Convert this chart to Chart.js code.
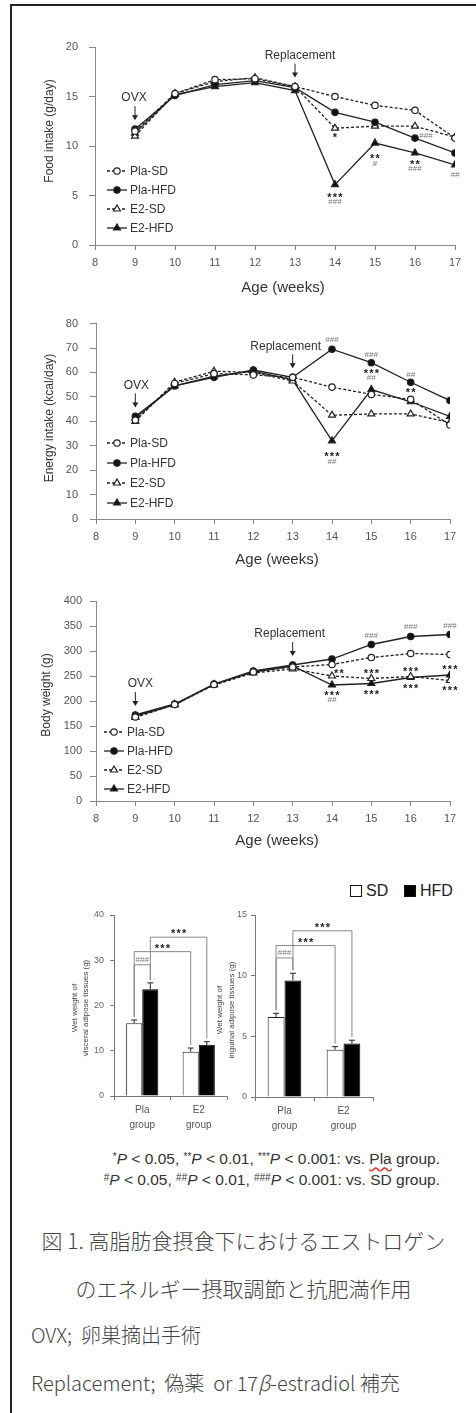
<!DOCTYPE html>
<html>
<head>
<meta charset="utf-8">
<script src="https://cdn.jsdelivr.net/npm/chart.js@4.4.0/dist/chart.umd.min.js"></script>
<style>
  body { margin: 0; background: #fff; }
  #page { position: relative; width: 476px; height: 1413px; overflow: hidden; font-family: "Liberation Sans", Arial, sans-serif; }
  #frame { position: absolute; left: 10px; top: 4px; width: 480px; height: 1420px; border-left: 2px solid #222; border-top: 2px solid #222; }
  canvas { position: absolute; }
  .key { position: absolute; top: 880px; font: 16px "Liberation Sans", Arial, sans-serif; color: #222; line-height: 22px; }
  .box { display: inline-block; width: 10px; height: 10px; border: 1.5px solid #111; vertical-align: -1px; margin-right: 4px; }
  #note { position: absolute; right: 36px; top: 1147px; font: 15.5px "Liberation Sans", Arial, sans-serif; color: #333; text-align: right; line-height: 19px; white-space: nowrap; }
  #note sup { font-size: 10px; vertical-align: 4px; }
  .wavy { text-decoration: underline wavy #d33; text-underline-offset: 2px; }
  .cap { position: absolute; font-family: "Noto Sans CJK JP", sans-serif; font-weight: 300; color: #444; white-space: nowrap; }
</style>
</head>
<body>
<div id="page">
  <div id="frame"></div>
  <canvas id="food" width="476" height="285" style="left:0;top:20px"></canvas>
  <canvas id="energy" width="476" height="265" style="left:0;top:305px"></canvas>
  <canvas id="body" width="476" height="280" style="left:0;top:575px"></canvas>

  <div class="key" style="left:350px"><span class="box" style="background:#fff"></span>SD</div>
  <div class="key" style="left:404px"><span class="box" style="background:#000"></span>HFD</div>
  <canvas id="visceral" width="202" height="240" style="left:30px;top:900px"></canvas>
  <canvas id="inguinal" width="170" height="240" style="left:212px;top:900px"></canvas>

  <div id="note">
    <sup>*</sup><i>P</i> &lt; 0.05, <sup>**</sup><i>P</i> &lt; 0.01, <sup>***</sup><i>P</i> &lt; 0.001: vs. <span class="wavy">Pla</span> group.<br>
    <sup>#</sup><i>P</i> &lt; 0.05, <sup>##</sup><i>P</i> &lt; 0.01, <sup>###</sup><i>P</i> &lt; 0.001: vs. SD group.
  </div>

  <div class="cap" style="left:11px;width:465px;text-align:center;top:1225px;font-size:21px;line-height:30px">図 1. 高脂肪食摂食下におけるエストロゲン</div>
  <div class="cap" style="left:11px;width:465px;text-align:center;top:1273px;font-size:21px;line-height:30px">のエネルギー摂取調節と抗肥満作用</div>
  <div class="cap" style="left:31px;top:1320px;font-size:20px;line-height:30px">OVX;&nbsp; 卵巣摘出手術</div>
  <div class="cap" style="left:31px;top:1368px;font-size:20px;line-height:30px">Replacement;&nbsp; 偽薬&nbsp; or 17<i>β</i>-estradiol 補充</div>
</div>

<script>
/* ---------- data ---------- */
const weeks = [9, 10, 11, 12, 13, 14, 15, 16, 17];
const seriesNames = ['Pla-SD', 'Pla-HFD', 'E2-SD', 'E2-HFD'];

const foodPlaSD  = [11.5, 15.3, 16.7, 16.8, 16.0, 15.0, 14.1, 13.6, 10.8];
const foodPlaHFD = [11.7, 15.1, 16.2, 16.6, 15.9, 13.4, 12.4, 10.8, 9.3];
const foodE2SD   = [11.0, 15.3, 16.5, 16.9, 16.0, 11.8, 12.0, 12.0, 10.9];
const foodE2HFD  = [11.3, 15.2, 16.0, 16.4, 15.6, 6.1, 10.3, 9.3, 8.1];

const energyPlaSD  = [40.5, 55.5, 59.5, 59.0, 58.0, 54.0, 51.0, 49.0, 38.5];
const energyPlaHFD = [42.0, 54.5, 58.0, 61.0, 58.0, 69.5, 64.0, 56.0, 48.5];
const energyE2SD   = [40.0, 56.0, 60.5, 60.0, 56.5, 42.5, 43.0, 43.0, 39.5];
const energyE2HFD  = [41.5, 54.5, 58.5, 60.5, 57.0, 32.0, 53.0, 48.0, 42.0];

const bwPlaSD  = [168, 193, 233, 258, 268, 273, 287, 295, 293];
const bwPlaHFD = [172, 194, 234, 260, 272, 284, 313, 329, 333];
const bwE2SD   = [167, 193, 232, 256, 264, 250, 245, 249, 241];
const bwE2HFD  = [170, 192, 233, 258, 270, 232, 235, 247, 252];

const barGroups = [['Pla', 'group'], ['E2', 'group']];
const visceralSD     = [16.1, 9.8];
const visceralSDErr  = [0.7, 0.8];
const visceralHFD    = [23.6, 11.3];
const visceralHFDErr = [1.4, 0.7];
const inguinalSD     = [6.6, 3.9];
const inguinalSDErr  = [0.3, 0.25];
const inguinalHFD    = [9.6, 4.4];
const inguinalHFDErr = [0.6, 0.28];

/* ---------- styles ---------- */
const FONT = '"Liberation Sans", Arial, sans-serif';
const INK = '#222';
const dashed = [true, false, true, false];
const markers = ['circle', 'circle', 'triangle', 'triangle'];
const markerFill = ['#fff', '#111', '#fff', '#111'];

function drawMarker(ctx, style, x, y, r, fill) {
  ctx.beginPath();
  if (style === 'triangle') {
    let a = 0;
    ctx.moveTo(x + Math.sin(a) * r, y - Math.cos(a) * r);
    a += Math.PI * 2 / 3;
    ctx.lineTo(x + Math.sin(a) * r, y - Math.cos(a) * r);
    a += Math.PI * 2 / 3;
    ctx.lineTo(x + Math.sin(a) * r, y - Math.cos(a) * r);
    ctx.closePath();
  } else {
    ctx.arc(x, y, r, 0, Math.PI * 2);
  }
  ctx.fillStyle = fill;
  ctx.fill();
  ctx.stroke();
}

function drawSig(ctx, x, y, text) {
  const star = text[0] === '*';
  const size = star ? 11 : 8;
  const step = star ? 5.5 : 4.5;
  ctx.font = (star ? 'bold ' : '') + size + 'px ' + FONT;
  ctx.fillStyle = star ? '#222' : '#777';
  ctx.textAlign = 'center';
  ctx.textBaseline = 'alphabetic';
  const base = y + (star ? 0.57 : 0.36) * size;
  for (let k = 0; k < text.length; k++) {
    ctx.fillText(text[k], x + (k - (text.length - 1) / 2) * step, base);
  }
}

function drawLineOverlay(chart, cfg) {
  const ctx = chart.ctx;
  const xs = chart.scales.x;
  const top = cfg.top;
  ctx.save();

  // axis titles
  ctx.fillStyle = '#333';
  ctx.textAlign = 'center';
  ctx.textBaseline = 'middle';
  ctx.font = '15px ' + FONT;
  ctx.fillText('Age (weeks)', cfg.xTitle[0], cfg.xTitle[1] - top);
  ctx.save();
  ctx.translate(cfg.yTitle[0], cfg.yTitle[1] - top);
  ctx.rotate(-Math.PI / 2);
  ctx.font = '12px ' + FONT;
  ctx.fillText(cfg.yLabel, 0, 0);
  ctx.restore();

  // legend
  chart.data.datasets.forEach((ds, i) => {
    const y = cfg.legendRows[i] - top;
    const x0 = cfg.legendX;
    ctx.strokeStyle = ds.borderColor;
    ctx.lineWidth = ds.borderWidth;
    ctx.setLineDash(ds.borderDash);
    ctx.beginPath();
    ctx.moveTo(x0, y);
    ctx.lineTo(x0 + 20, y);
    ctx.stroke();
    ctx.setLineDash([]);
    ctx.lineWidth = ds.pointBorderWidth;
    drawMarker(ctx, ds.pointStyle, x0 + 10, y, ds.pointRadius, ds.pointBackgroundColor);
    ctx.fillStyle = '#333';
    ctx.font = '12px ' + FONT;
    ctx.textAlign = 'left';
    ctx.fillText(ds.label, x0 + 23, y + 1);
  });

  // OVX / Replacement arrows
  cfg.arrows.forEach(a => {
    const idx = weeks.indexOf(a.week);
    const x = xs.getPixelForValue(a.week);
    let yTop = Infinity;
    chart.data.datasets.forEach((ds, i) => {
      yTop = Math.min(yTop, chart.getDatasetMeta(i).data[idx].y);
    });
    const tip = yTop - 9, start = tip - 14;
    ctx.strokeStyle = INK;
    ctx.fillStyle = INK;
    ctx.lineWidth = 1;
    ctx.beginPath();
    ctx.moveTo(x, start);
    ctx.lineTo(x, tip - 4);
    ctx.stroke();
    ctx.beginPath();
    ctx.moveTo(x - 3, tip - 5);
    ctx.lineTo(x + 3, tip - 5);
    ctx.lineTo(x, tip);
    ctx.closePath();
    ctx.fill();
    ctx.fillStyle = '#333';
    ctx.font = '12px ' + FONT;
    ctx.textAlign = 'center';
    ctx.textBaseline = 'middle';
    ctx.fillText(a.text, x + (a.dx || 0), start - 8);
  });

  // significance marks
  cfg.marks.forEach(([ds, week, dy, text, dx]) => {
    const p = chart.getDatasetMeta(ds).data[weeks.indexOf(week)];
    drawSig(ctx, p.x + (dx || 0), p.y + dy, text);
  });
  ctx.restore();
}

function makeLineChart(cfg) {
  const canvas = document.getElementById(cfg.id);
  return new Chart(canvas, {
    type: 'line',
    data: {
      datasets: cfg.values.map((vals, i) => ({
        label: seriesNames[i],
        data: weeks.map((w, k) => ({ x: w, y: vals[k] })),
        borderColor: INK,
        borderWidth: 1.3,
        borderDash: dashed[i] ? [3, 2] : [],
        pointStyle: markers[i],
        pointRadius: markers[i] === 'triangle' ? 4 : 3.2,
        pointBackgroundColor: markerFill[i],
        pointBorderColor: INK,
        pointBorderWidth: 1.2,
        tension: 0,
        fill: false,
      })),
    },
    options: {
      responsive: false,
      animation: false,
      layout: { padding: { top: cfg.plotTop - cfg.top, right: 476 - cfg.plotRight, left: 0, bottom: 0 } },
      plugins: { legend: { display: false }, tooltip: { enabled: false } },
      scales: {
        x: {
          type: 'linear', min: 8, max: 17,
          ticks: { stepSize: 1, color: '#555', font: { size: 11, family: FONT }, padding: 6 },
          grid: { drawOnChartArea: false, tickLength: 5, color: '#888' },
          border: { color: '#888' },
          afterFit: s => { s.height = cfg.top + cfg.height - cfg.plotBottom; },
        },
        y: {
          min: 0, max: cfg.yMax,
          ticks: { stepSize: cfg.yStep, color: '#555', font: { size: 11, family: FONT }, padding: cfg.tickPad },
          grid: { drawOnChartArea: false, tickLength: 6, color: '#888' },
          border: { color: '#888' },
          afterFit: s => { s.width = cfg.plotLeft; },
        },
      },
    },
    plugins: [{ id: 'overlay', afterDraw: ch => drawLineOverlay(ch, cfg) }],
  });
}

makeLineChart({
  id: 'food', top: 20, height: 285,
  plotTop: 47, plotBottom: 245, plotLeft: 95, plotRight: 455,
  yMax: 20, yStep: 5, tickPad: 11,
  values: [foodPlaSD, foodPlaHFD, foodE2SD, foodE2HFD],
  yLabel: 'Food intake (g/day)', yTitle: [50, 131], xTitle: [283, 288],
  legendX: 107, legendRows: [171, 190, 209, 228],
  arrows: [{ week: 9, text: 'OVX', dx: -1 }, { week: 13, text: 'Replacement', dx: 5 }],
  marks: [
    [2, 14, 7, '*'],
    [3, 14, 10, '***'], [3, 14, 17, '###'],
    [3, 15, 13, '**'], [3, 15, 20, '#'],
    [1, 16, -3, '###', 11],
    [3, 16, 9, '**'], [3, 16, 15, '###'],
    [3, 17, 9, '##'],
  ],
});

makeLineChart({
  id: 'energy', top: 305, height: 265,
  plotTop: 317, plotBottom: 519, plotLeft: 96, plotRight: 450,
  yMax: 80, yStep: 10, tickPad: 12,
  values: [energyPlaSD, energyPlaHFD, energyE2SD, energyE2HFD],
  yLabel: 'Energy intake (kcal/day)', yTitle: [50, 418], xTitle: [277, 560],
  legendX: 107, legendRows: [443, 463, 483, 503],
  arrows: [{ week: 9, text: 'OVX', dx: 1 }, { week: 13, text: 'Replacement', dx: -7 }],
  marks: [
    [1, 14, -10, '###'],
    [3, 14, 13, '***'], [3, 14, 20, '##'],
    [1, 15, -9, '###'],
    [3, 15, -19, '***'], [3, 15, -12, '##'],
    [1, 16, -8, '##'],
    [3, 16, -12, '**'],
  ],
});

makeLineChart({
  id: 'body', top: 575, height: 280,
  plotTop: 601, plotBottom: 801, plotLeft: 96, plotRight: 450,
  yMax: 400, yStep: 50, tickPad: 8,
  values: [bwPlaSD, bwPlaHFD, bwE2SD, bwE2HFD],
  yLabel: 'Body weight (g)', yTitle: [47, 695], xTitle: [277, 841],
  legendX: 104, legendRows: [732, 751, 770, 789],
  arrows: [{ week: 9, text: 'OVX', dx: 5 }, { week: 13, text: 'Replacement', dx: -3 }],
  marks: [
    [2, 14, -5, '**', 7],
    [3, 14, 8, '***'], [3, 14, 14, '##'],
    [1, 15, -9, '###'], [2, 15, -8, '***'], [3, 15, 8, '***'],
    [1, 16, -10, '###'], [2, 16, -8, '***'], [3, 16, 8, '***'],
    [1, 17, -9, '###'], [3, 17, -8, '***'], [2, 17, 7, '***'],
  ],
});

/* ---------- bar charts ---------- */
function drawBarOverlay(chart, cfg) {
  const ctx = chart.ctx;
  const ys = chart.scales.y;
  const errTop = (d, j) => ys.getPixelForValue(chart.data.datasets[d].data[j] + cfg.errors[d][j]);
  ctx.save();

  // error bars
  ctx.strokeStyle = INK;
  ctx.lineWidth = 1;
  chart.data.datasets.forEach((ds, d) => {
    chart.getDatasetMeta(d).data.forEach((bar, j) => {
      const yt = errTop(d, j);
      ctx.beginPath();
      ctx.moveTo(bar.x, bar.y);
      ctx.lineTo(bar.x, yt);
      ctx.moveTo(bar.x - 3, yt);
      ctx.lineTo(bar.x + 3, yt);
      ctx.stroke();
    });
  });

  // brackets
  cfg.brackets.forEach(b => {
    const pa = chart.getDatasetMeta(b.a[0]).data[b.a[1]];
    const pb = chart.getDatasetMeta(b.b[0]).data[b.b[1]];
    const yl = ys.getPixelForValue(b.level);
    ctx.strokeStyle = '#888';
    ctx.lineWidth = 1;
    ctx.beginPath();
    ctx.moveTo(pa.x, errTop(b.a[0], b.a[1]) - 3);
    ctx.lineTo(pa.x, yl);
    ctx.lineTo(pb.x, yl);
    ctx.lineTo(pb.x, errTop(b.b[0], b.b[1]) - 3);
    ctx.stroke();
    drawSig(ctx, (pa.x + pb.x) / 2, yl - 6, b.text);
  });

  // y title (two lines)
  ctx.fillStyle = '#444';
  ctx.font = '8px ' + FONT;
  ctx.textAlign = 'center';
  ctx.textBaseline = 'middle';
  cfg.yLabel.forEach((line, k) => {
    ctx.save();
    ctx.translate(cfg.yTitleX[k] - cfg.left, cfg.yTitleY - cfg.top);
    ctx.rotate(-Math.PI / 2);
    ctx.fillText(line, 0, 0);
    ctx.restore();
  });
  ctx.restore();
}

function makeBarChart(cfg) {
  return new Chart(document.getElementById(cfg.id), {
    type: 'bar',
    data: {
      labels: barGroups,
      datasets: [
        { label: 'SD', data: cfg.sd, backgroundColor: '#fff', borderColor: INK, borderWidth: 1 },
        { label: 'HFD', data: cfg.hfd, backgroundColor: '#000', borderColor: '#000', borderWidth: 1 },
      ],
    },
    options: {
      responsive: false,
      animation: false,
      datasets: { bar: { categoryPercentage: 0.57, barPercentage: 1 } },
      layout: { padding: { top: cfg.plotTop - cfg.top, right: cfg.left + cfg.width - cfg.plotRight, left: 0, bottom: 0 } },
      plugins: { legend: { display: false }, tooltip: { enabled: false } },
      scales: {
        x: {
          ticks: { color: '#555', font: { size: 10, family: FONT, lineHeight: 1.5 }, padding: 3 },
          grid: { offset: true, drawOnChartArea: false, tickLength: 4, color: '#777' },
          border: { color: '#777' },
          afterFit: s => { s.height = cfg.top + cfg.height - cfg.plotBottom; },
        },
        y: {
          min: 0, max: cfg.yMax,
          ticks: { stepSize: cfg.yStep, color: '#666', font: { size: 9, family: FONT }, padding: cfg.tickPad },
          grid: { drawOnChartArea: false, tickLength: 4, color: '#777' },
          border: { color: '#777' },
          afterFit: s => { s.width = cfg.plotLeft - cfg.left; },
        },
      },
    },
    plugins: [{ id: 'overlay', afterDraw: ch => drawBarOverlay(ch, cfg) }],
  });
}

makeBarChart({
  id: 'visceral', left: 30, top: 900, width: 202, height: 240,
  plotTop: 915, plotBottom: 1096, plotLeft: 114, plotRight: 227,
  yMax: 40, yStep: 10, tickPad: 6,
  sd: visceralSD, hfd: visceralHFD, errors: [visceralSDErr, visceralHFDErr],
  yLabel: ['Wet weight of', 'visceral adipose tissues (g)'], yTitleX: [75, 86], yTitleY: 1008,
  brackets: [
    { a: [0, 0], b: [1, 0], level: 29.0, text: '###' },
    { a: [0, 0], b: [0, 1], level: 31.9, text: '***' },
    { a: [1, 0], b: [1, 1], level: 35.1, text: '***' },
  ],
});

makeBarChart({
  id: 'inguinal', left: 212, top: 900, width: 170, height: 240,
  plotTop: 915, plotBottom: 1097, plotLeft: 255, plotRight: 373,
  yMax: 15, yStep: 5, tickPad: 4,
  sd: inguinalSD, hfd: inguinalHFD, errors: [inguinalSDErr, inguinalHFDErr],
  yLabel: ['Wet weight of', 'inguinal adipose tissues (g)'], yTitleX: [220, 232], yTitleY: 1010,
  brackets: [
    { a: [0, 0], b: [1, 0], level: 11.46, text: '###' },
    { a: [0, 0], b: [0, 1], level: 12.48, text: '***' },
    { a: [1, 0], b: [1, 1], level: 13.7, text: '***' },
  ],
});
</script>
</body>
</html>
